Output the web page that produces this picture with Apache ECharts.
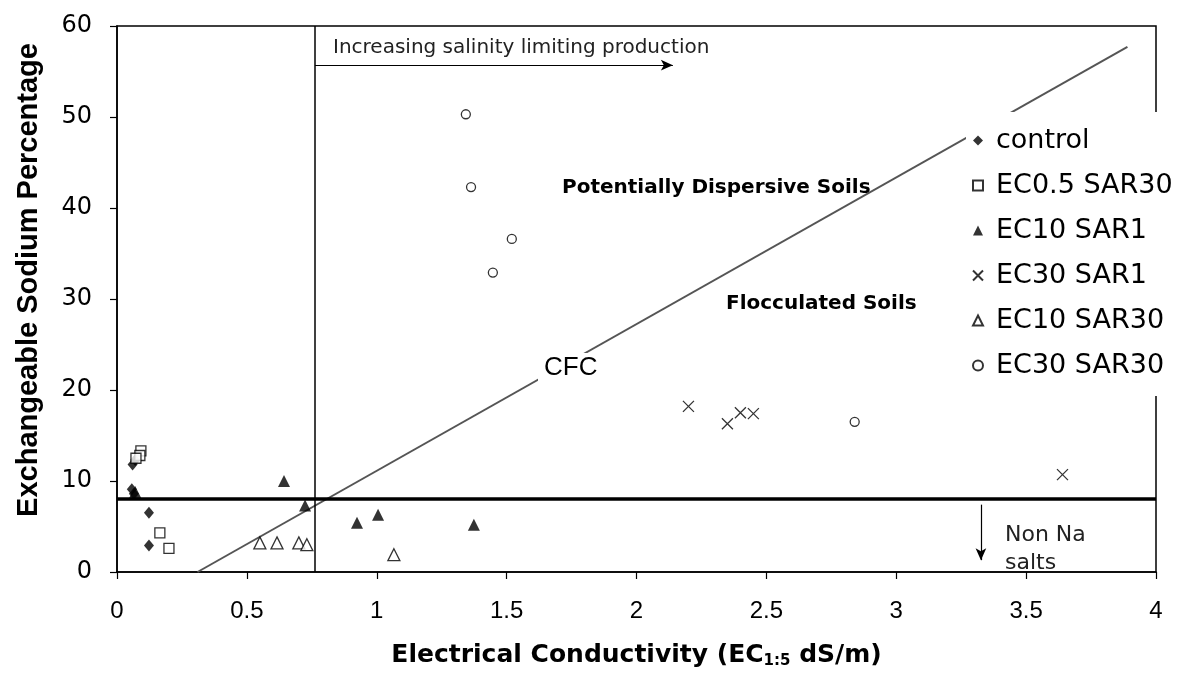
<!DOCTYPE html>
<html>
<head>
<meta charset="utf-8">
<script src="https://cdn.jsdelivr.net/npm/echarts@6/dist/echarts.min.js"></script>
<style>html,body{margin:0;padding:0;background:#fff}#c{width:1183px;height:689px}</style>
</head>
<body>
<div id="c"></div>
<script>
// ---- data (EC 1:5 dS/m, ESP %) ----
const seriesNames = ['control', 'EC0.5 SAR30', 'EC10 SAR1', 'EC30 SAR1', 'EC10 SAR30', 'EC30 SAR30'];
const control   = [[0.06, 11.8], [0.07, 12.3], [0.057, 9.1], [0.065, 8.6], [0.123, 6.5], [0.123, 2.9]];
const ec05sar30 = [[0.092, 13.3], [0.088, 12.8], [0.073, 12.5], [0.165, 4.3], [0.2, 2.6]];
const ec10sar1  = [[0.07, 8.8], [0.643, 10.0], [0.724, 7.3], [0.924, 5.4], [1.005, 6.3], [1.374, 5.2]];
const ec30sar1  = [[2.20, 18.2], [2.35, 16.3], [2.40, 17.5], [2.45, 17.4], [3.64, 10.7]];
const ec10sar30 = [[0.55, 3.2], [0.616, 3.2], [0.70, 3.2], [0.731, 3.0], [1.066, 1.9]];
const ec30sar30 = [[1.343, 50.3], [1.363, 42.3], [1.52, 36.6], [1.447, 32.9], [2.84, 16.5]];

// guide lines
const cfcLine = [[0.31, 0], [3.89, 57.7]];
const naThresholdESP = 8;
const salinityEC = 0.762;
const salinityArrow = [[0.762, 55.7], [2.14, 55.7]];
const nonNaArrow = [[3.326, 7.4], [3.326, 1.3]];

// axes
const xMin = 0, xMax = 4, xStep = 0.5;
const yMin = 0, yMax = 60, yStep = 10;

const chart = echarts.init(document.getElementById('c'), null, {renderer: 'canvas'});

const crossPath = 'path://M0,0L10,10M10,0L0,10';
const openStyle = {color: '#fff', borderColor: '#000', borderWidth: 1.3};
const filledStyle = {color: '#000'};

function scatter(name, data, symbol, size, style) {
  return {
    name, type: 'scatter', data, symbol, symbolSize: size,
    itemStyle: style, z: 5, animation: false,
    emphasis: {disabled: true}
  };
}

const option = {
  animation: false,
  backgroundColor: '#fff',
  grid: {left: 117, right: 27, top: 26, bottom: 117, show: true, borderColor: '#000', borderWidth: 1.5, backgroundColor: 'transparent'},
  xAxis: {
    type: 'value', min: xMin, max: xMax, interval: xStep,
    axisLine: {show: true, onZero: false, lineStyle: {color: '#000', width: 1.5}},
    axisTick: {show: true, inside: false, length: 7, lineStyle: {color: '#000', width: 1.2}},
    splitLine: {show: false},
    axisLabel: {color: '#000', fontSize: 24, fontFamily: 'Liberation Sans, Arial', margin: 27},
    name: '{b|Electrical Conductivity (EC}{s|1:5}{b| dS/m)}',
    nameLocation: 'middle', nameGap: 70,
    nameTextStyle: {
      rich: {
        b: {fontSize: 25, fontWeight: 'bold', fontFamily: 'DejaVu Sans', color: '#000'},
        s: {fontSize: 15, fontWeight: 'bold', fontFamily: 'DejaVu Sans', color: '#000', verticalAlign: 'bottom', padding: [12, 0, 0, 0]}
      }
    }
  },
  yAxis: {
    type: 'value', min: yMin, max: yMax, interval: yStep,
    axisLine: {show: true, onZero: false, lineStyle: {color: '#000', width: 1.5}},
    axisTick: {show: true, inside: false, length: 7, lineStyle: {color: '#000', width: 1.2}},
    splitLine: {show: false},
    axisLabel: {color: '#000', fontSize: 24, fontFamily: 'DejaVu Sans', margin: 25},
    name: 'Exchangeable Sodium Percentage',
    nameLocation: 'middle', nameGap: 74, nameRotate: 90,
    nameTextStyle: {fontSize: 29, fontWeight: 'bold', fontFamily: 'Liberation Sans, Arial', color: '#000', padding: [0, 0, 0, 38]}
  },
  legend: {
    data: [
      {name: seriesNames[0]}, {name: seriesNames[1]}, {name: seriesNames[2]},
      {name: seriesNames[3]}, {name: seriesNames[4]}, {name: seriesNames[5]}
    ],
    orient: 'vertical', left: 966, top: 112,
    padding: [15, 4, 17, 6],
    itemWidth: 10, itemHeight: 10, itemGap: 18,
    backgroundColor: '#fff',
    textStyle: {fontSize: 27, fontFamily: 'DejaVu Sans', color: '#000', lineHeight: 27, padding: [0, 0, 0, 8]},
    selectedMode: false, z: 10
  },
  graphic: [
    {type: 'text', left: 333, top: 38, z: 20, style: {text: 'Increasing salinity limiting production', font: '20px "DejaVu Sans"', fill: '#222'}},
    {type: 'text', left: 562, top: 178, z: 20, style: {text: 'Potentially Dispersive Soils', font: 'bold 20px "DejaVu Sans"', fill: '#000'}},
    {type: 'text', left: 726, top: 294, z: 20, style: {text: 'Flocculated Soils', font: 'bold 20px "DejaVu Sans"', fill: '#000'}},
    {type: 'text', left: 538, top: 353, z: 20, style: {text: 'CFC', font: '26px "Liberation Sans"', fill: '#000', backgroundColor: '#fff', padding: [2, 6, 2, 6]}},
    {type: 'text', left: 1005, top: 524, z: 20, style: {text: 'Non Na', font: '22px "DejaVu Sans"', fill: '#222'}},
    {type: 'text', left: 1005, top: 552, z: 20, style: {text: 'salts', font: '22px "DejaVu Sans"', fill: '#222'}}
  ],
  series: [
    scatter(seriesNames[0], control, 'diamond', [10, 12], filledStyle),
    scatter(seriesNames[1], ec05sar30, 'rect', 10, openStyle),
    scatter(seriesNames[2], ec10sar1, 'triangle', 12, filledStyle),
    scatter(seriesNames[3], ec30sar1, crossPath, 11, {color: 'transparent', borderColor: '#000', borderWidth: 1.3}),
    scatter(seriesNames[4], ec10sar30, 'triangle', 12, openStyle),
    scatter(seriesNames[5], ec30sar30, 'circle', 9, openStyle),
    {
      name: 'CFC', type: 'line', data: cfcLine, symbol: 'none', z: 3,
      lineStyle: {color: '#555', width: 2}, silent: true, animation: false
    },
    {
      name: 'guides', type: 'line', data: [], symbol: 'none', silent: true, z: 4, animation: false,
      markLine: {
        silent: true, animation: false, symbol: ['none', 'none'],
        label: {show: false},
        emphasis: {disabled: true},
        data: [
          [{coord: [xMin, naThresholdESP], lineStyle: {color: '#000', width: 3.5, type: 'solid'}}, {coord: [xMax, naThresholdESP]}],
          [{coord: [salinityEC, yMin], lineStyle: {color: '#000', width: 1.5, type: 'solid'}}, {coord: [salinityEC, yMax]}]
        ]
      }
    },
    {
      name: 'arrows', type: 'line', data: [], symbol: 'none', silent: true, z: 4, animation: false,
      markLine: {
        silent: true, animation: false, symbol: ['none', 'arrow'], symbolSize: [8, 12],
        label: {show: false},
        emphasis: {disabled: true},
        lineStyle: {color: '#000', width: 1.2, type: 'solid'},
        data: [
          [{coord: salinityArrow[0]}, {coord: salinityArrow[1]}],
          [{coord: nonNaArrow[0]}, {coord: nonNaArrow[1]}]
        ]
      }
    }
  ]
};
chart.setOption(option);
</script>
</body>
</html>
